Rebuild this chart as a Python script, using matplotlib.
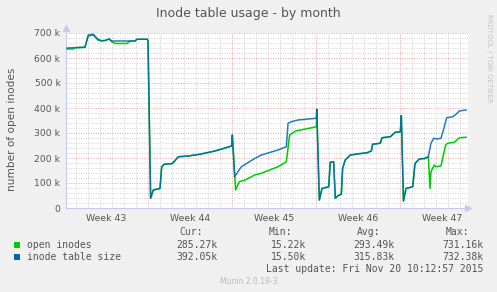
import matplotlib
matplotlib.use("Agg")
import matplotlib.pyplot as plt

# days since Mon Oct 26 (start of week 44), values in thousands
size_days = [-6.75, -5.25, -4.98, -4.56, -4.17, -3.86, -3.58, -3.25, -3.0, -1.08, -0.92, -0.06, 0.0,
             0.22, 0.44, 1.0, 1.14, 1.36, 2.03, 2.53, 3.36, 4.33, 5.58, 6.97, 7.03,
             7.22, 7.78, 8.89, 9.44, 10.83, 11.53, 11.67, 11.94, 12.5, 14.03, 14.06,
             14.28, 14.5, 15.06, 15.19, 15.47, 15.61, 15.83, 16.11, 16.22, 16.44, 16.86, 17.42,
             18.25, 18.61, 18.72, 19.36, 19.5, 20.19, 20.61, 21.03, 21.11,
             21.29, 21.5, 22.06, 22.25, 22.61, 23.03, 23.36, 23.58, 23.81, 24.06, 24.42,
             24.64, 24.89, 25.39, 25.67, 25.94, 26.5]
size_k = [640, 643, 692, 695, 675, 669, 670, 676, 668, 668, 675, 675, 669,
          39, 72, 78, 165, 175, 178, 205, 208, 215, 228, 248, 292,
          125, 165, 198, 212, 232, 245, 339, 345, 352, 359, 395,
          32, 78, 85, 183, 185, 39, 49, 55, 159, 192, 212, 216,
          221, 228, 255, 259, 281, 285, 303, 305, 370,
          28, 78, 85, 178, 196, 198, 205, 259, 279, 276, 279,
          316, 361, 365, 375, 388, 392]

open_days = [-6.75, -6.2, -6.1, -5.25, -4.98, -4.56, -4.17, -3.86, -3.58, -3.25, -3.0, -2.7, -1.75,
             -1.5, -1.08, -0.92, -0.06, 0.0,
             0.22, 0.44, 1.0, 1.14, 1.36, 2.03, 2.53, 3.36, 4.33, 5.58, 6.97, 7.03,
             7.3, 7.6, 8.1, 8.89, 9.44, 10.83, 11.53, 11.8, 12.3, 14.03, 14.06,
             14.28, 14.5, 15.06, 15.19, 15.47, 15.61, 15.83, 16.11, 16.22, 16.44, 16.86, 17.42,
             18.25, 18.61, 18.72, 19.36, 19.5, 20.19, 20.61, 21.03, 21.11,
             21.29, 21.5, 22.06, 22.25, 22.61, 23.03, 23.36, 23.5, 23.58, 23.86, 24.0, 24.42,
             24.8, 24.97, 25.53, 25.94, 26.5]
open_k = [636, 636, 641, 643, 688, 692, 672, 668, 670, 676, 664, 658, 658,
          668, 668, 675, 675, 669,
          39, 72, 78, 165, 175, 178, 205, 208, 215, 228, 248, 292,
          72, 105, 112, 132, 139, 165, 185, 292, 308, 325, 395,
          32, 78, 85, 183, 185, 39, 49, 55, 159, 192, 212, 216,
          221, 228, 255, 259, 281, 285, 303, 305, 370,
          28, 78, 85, 178, 196, 198, 205, 78, 145, 172, 165, 169,
          252, 259, 263, 281, 283]

week_labels = ["Week 43", "Week 44", "Week 45", "Week 46", "Week 47"]
week_mid = [-3.5, 3.5, 10.5, 17.5, 24.5]
y_ticks = [0, 100, 200, 300, 400, 500, 600, 700]
y_labels = ["0"] + [f"{v} k" for v in y_ticks[1:]]

legend_rows = [("open inodes", "#00CC00", "285.27k", "15.22k", "293.49k", "731.16k"),
               ("inode table size", "#0066B3", "392.05k", "15.50k", "315.83k", "732.38k")]

W, H = 497, 292
fig = plt.figure(figsize=(W / 100, H / 100), dpi=100)
fig.patch.set_facecolor("#F0F0F0")
L, R, T, B = 66, 468, 33, 208
ax = fig.add_axes([L / W, 1 - B / H, (R - L) / W, (B - T) / H])
ax.set_facecolor("white")
xmin, xmax = -6.833, 26.667
ax.set_xlim(xmin, xmax)
ax.set_ylim(0, 700)

# сетка: дни / недели и 20k / 100k
for d in range(-6, 27):
    if d % 7 == 0:
        ax.axvline(d, color="#F0A0A0", lw=0.7, ls=(0, (1, 1.5)), zorder=1)
    else:
        ax.axvline(d, color="#D0D0D0", lw=0.7, ls=(0, (1, 1.5)), zorder=0)
for v in range(20, 701, 20):
    if v % 100 == 0:
        ax.axhline(v, color="#F0A0A0", lw=0.7, ls=(0, (1, 1.5)), zorder=1)
    else:
        ax.axhline(v, color="#D0D0D0", lw=0.7, ls=(0, (1, 1.5)), zorder=0)

ax.plot(open_days, open_k, color="#00CC00", lw=1.1, zorder=3)
ax.plot(size_days, size_k, color="#0066B3", lw=1.1, alpha=0.85, zorder=4)

for s in ["top", "right"]:
    ax.spines[s].set_visible(False)
for s in ["left", "bottom"]:
    ax.spines[s].set_color("#C8C8F0")
    ax.spines[s].set_linewidth(0.8)
ax.plot([1.0], [0], marker=">", color="#C8C8F0", ms=4, transform=ax.transAxes, clip_on=False)
ax.plot([0], [1.03], marker="^", color="#C8C8F0", ms=4, transform=ax.transAxes, clip_on=False)

ax.set_xticks(week_mid)
ax.set_xticklabels(week_labels)
ax.set_yticks(y_ticks)
ax.set_yticklabels(y_labels)
ax.tick_params(axis="both", length=0, labelsize=6.7, labelcolor="#555555", pad=4)
ax.set_ylabel("number of open inodes", fontsize=7.6, color="#555555")
ax.yaxis.set_label_coords(-0.122, 0.45)

fig.text(0.5, 1 - 14 / H, "Inode table usage - by month", ha="center", va="center",
         fontsize=9, color="#555555")
fig.text(489 / W, 1 - 58 / H, "RRDTOOL / TOBI OETIKER", rotation=-90, ha="center", va="center",
         fontsize=5, color="#C4C4C4")

mono = "DejaVu Sans Mono"
tc = "#555555"
hdr_y = 1 - 232 / H
for lbl, xr in [("Cur:", 203), ("Min:", 292), ("Avg:", 380), ("Max:", 469)]:
    fig.text(xr / W, hdr_y, lbl, ha="right", va="center", family=mono, fontsize=7, color=tc)
for i, (name, col, cur, mn, avg, mx) in enumerate(legend_rows):
    yy = 1 - (245 + 12 * i) / H
    fig.patches.append(plt.Rectangle((14 / W, yy - 3 / H), 6 / W, 6 / H, transform=fig.transFigure,
                                     facecolor=col, edgecolor="none"))
    fig.text(27 / W, yy, name, ha="left", va="center", family=mono, fontsize=7, color=tc)
    for val, xr in [(cur, 217), (mn, 306), (avg, 394), (mx, 483)]:
        fig.text(xr / W, yy, val, ha="right", va="center", family=mono, fontsize=7, color=tc)
fig.text(483 / W, 1 - 269 / H, "Last update: Fri Nov 20 10:12:57 2015", ha="right", va="center",
         family=mono, fontsize=7, color=tc)
fig.text(249 / W, 1 - 281 / H, "Munin 2.0.19-3", ha="center", va="center", fontsize=5.5, color="#BBBBBB")

fig.savefig("out.png", dpi=100, facecolor=fig.get_facecolor())
